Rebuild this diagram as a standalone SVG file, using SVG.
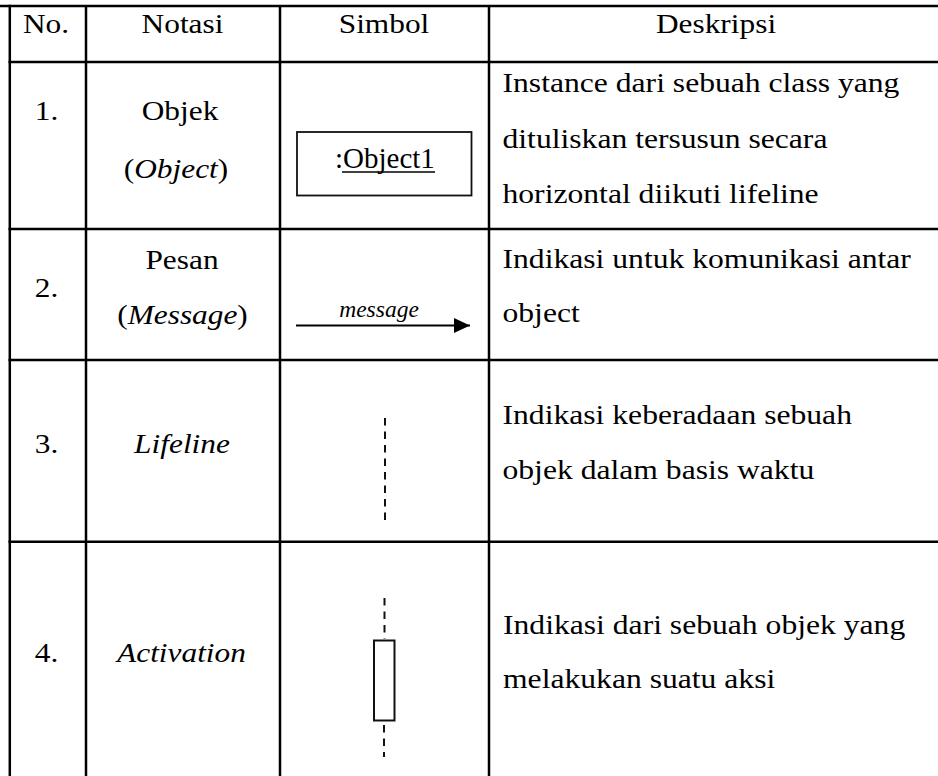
<svg xmlns="http://www.w3.org/2000/svg" width="938" height="776" viewBox="0 0 938 776">
<style>
.grid{stroke:#000;stroke-width:2.5;fill:none}
.t{font-family:"Liberation Serif","Times New Roman",serif;font-size:28px;fill:#000}
.c{text-anchor:middle}
.i{font-style:italic}
.dash{stroke:#111;stroke-width:2;stroke-dasharray:7.5 6;fill:none}
.shape{stroke:#111;stroke-width:2;fill:#fff}
</style>
<defs>
<marker id="arrow" markerWidth="16" markerHeight="15" refX="16" refY="7.5" orient="auto" markerUnits="userSpaceOnUse">
<path d="M0,0 L16,7.5 L0,15 Z" fill="#000"/>
</marker>
</defs>
<rect width="938" height="776" fill="#fff"/>
<g id="grid" class="grid">
<line x1="0" y1="6" x2="938" y2="6"/>
<line x1="8.5" y1="62" x2="938" y2="62"/>
<line x1="8.5" y1="229" x2="938" y2="229"/>
<line x1="8.5" y1="360" x2="938" y2="360"/>
<line x1="8.5" y1="541.7" x2="938" y2="541.7"/>
<line x1="9.8" y1="4.8" x2="9.8" y2="776"/>
<line x1="86" y1="6" x2="86" y2="776"/>
<line x1="280" y1="6" x2="280" y2="776"/>
<line x1="489" y1="6" x2="489" y2="776"/>
</g>
<g id="header" class="t c">
<text transform="translate(46,33) scale(1.12,1)">No.</text>
<text transform="translate(182.5,33) scale(1.12,1)">Notasi</text>
<text transform="translate(384,33) scale(1.12,1)">Simbol</text>
<text transform="translate(716,33) scale(1.12,1)">Deskripsi</text>
</g>
<g id="row1">
<text class="t c" transform="translate(46.5,120) scale(1.12,1)">1.</text>
<text class="t c" transform="translate(180,120) scale(1.12,1)">Objek</text>
<text class="t c" transform="translate(176,178) scale(1.12,1)">(<tspan class="i">Object</tspan>)</text>
<g id="object-symbol">
<rect x="297" y="132" width="174.5" height="63.5" fill="#fff" stroke="#111" stroke-width="1.8"/>
<text x="335" y="168.3" font-family="'Liberation Serif','Times New Roman',serif" font-size="29" fill="#000">:Object1</text>
<line x1="342" y1="172" x2="435" y2="172" stroke="#000" stroke-width="1.5"/>
</g>
<text class="t" transform="translate(502.5,91.7) scale(1.13,1)">Instance dari sebuah class yang</text>
<text class="t" transform="translate(502.5,148.3) scale(1.13,1)">dituliskan tersusun secara</text>
<text class="t" transform="translate(502.5,203.3) scale(1.13,1)">horizontal diikuti lifeline</text>
</g>
<g id="row2">
<text class="t c" transform="translate(46.5,296.7) scale(1.12,1)">2.</text>
<text class="t c" transform="translate(182,269.3) scale(1.12,1)">Pesan</text>
<text class="t c" transform="translate(182.5,324) scale(1.12,1)">(<tspan class="i">Message</tspan>)</text>
<text class="t" transform="translate(502.5,268.3) scale(1.13,1)">Indikasi untuk komunikasi antar</text>
<text class="t" transform="translate(502.5,321.7) scale(1.13,1)">object</text>
</g>
<g id="connectors">
<line x1="296" y1="325.5" x2="470" y2="325.5" stroke="#000" stroke-width="2.2" marker-end="url(#arrow)"/>
<text x="379" y="316.7" text-anchor="middle" font-family="'Liberation Serif','Times New Roman',serif" font-size="23.5" font-style="italic" fill="#000">message</text>
</g>
<g id="row3">
<text class="t c" transform="translate(46.5,453) scale(1.12,1)">3.</text>
<text class="t c i" transform="translate(182,453) scale(1.12,1)">Lifeline</text>
<line id="lifeline-symbol" class="dash" x1="385" y1="418" x2="385" y2="520"/>
<text class="t" transform="translate(502.5,424) scale(1.13,1)">Indikasi keberadaan sebuah</text>
<text class="t" transform="translate(502.5,479) scale(1.13,1)">objek dalam basis waktu</text>
</g>
<g id="row4">
<text class="t c" transform="translate(46.5,661.7) scale(1.12,1)">4.</text>
<text class="t c i" transform="translate(181.5,661.7) scale(1.12,1)">Activation</text>
<g id="activation-symbol">
<line class="dash" x1="384.5" y1="598" x2="384.5" y2="639"/>
<rect class="shape" x="374" y="640.5" width="20.5" height="80"/>
<line class="dash" x1="384" y1="725" x2="384" y2="757"/>
</g>
<text class="t" transform="translate(503,634) scale(1.13,1)">Indikasi dari sebuah objek yang</text>
<text class="t" transform="translate(503,688.3) scale(1.13,1)">melakukan suatu aksi</text>
</g>
</svg>
